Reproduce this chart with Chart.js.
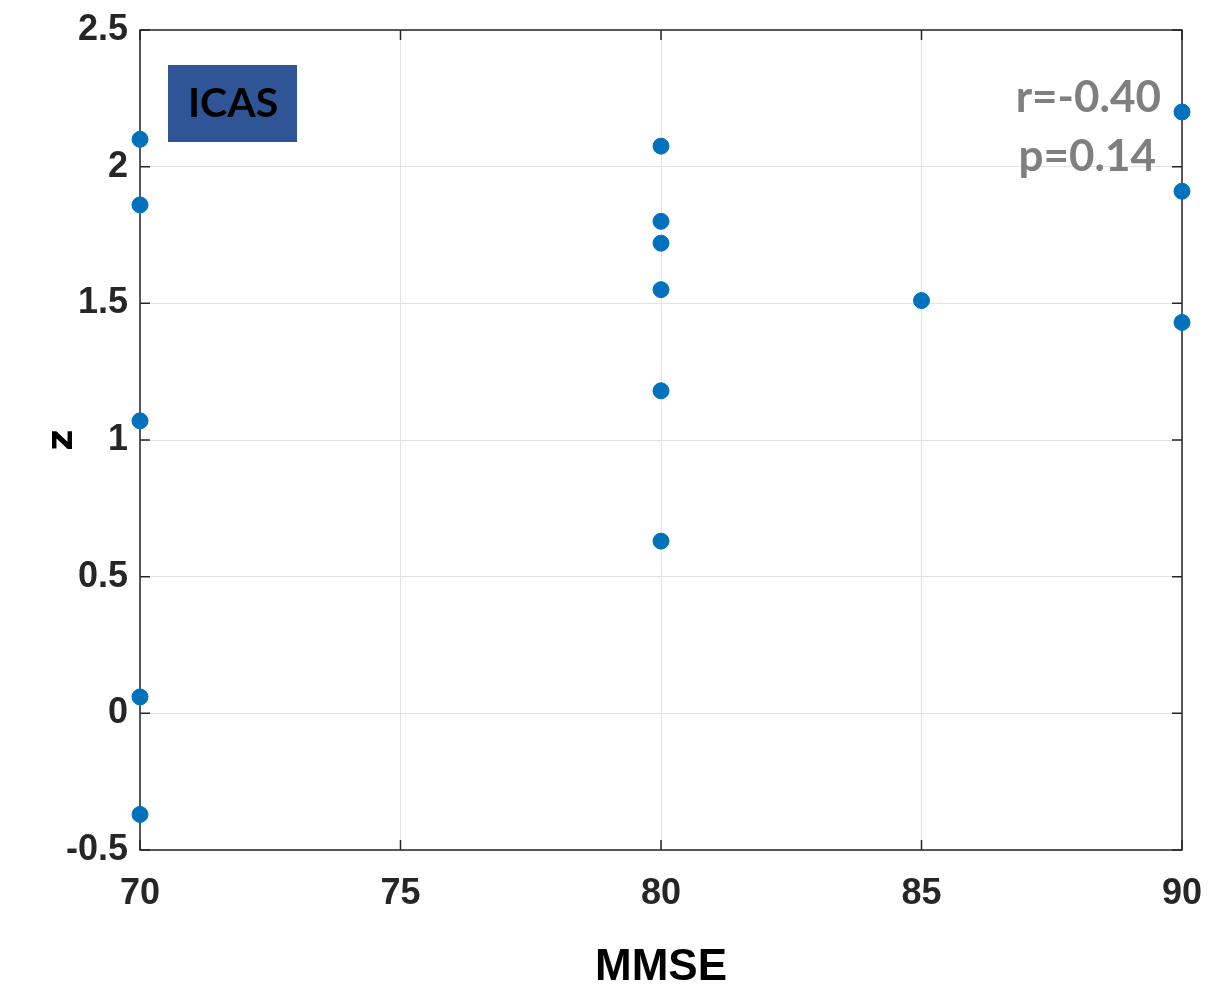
<!DOCTYPE html>
<html>
<head>
<meta charset="utf-8">
<script src="https://cdn.jsdelivr.net/npm/chart.js@4"></script>
<style>
  html, body { margin: 0; padding: 0; background: #fff; }
  #wrap { width: 1231px; height: 990px; position: relative; }
</style>
</head>
<body>
<div id="wrap"><canvas id="scatterChart"></canvas></div>
<script>
// Data
const mmse = [70, 70, 70, 70, 70, 80, 80, 80, 80, 80, 80, 85, 90, 90, 90];
const zValues = [2.10, 1.86, 1.07, 0.06, -0.37, 2.075, 1.80, 1.72, 1.55, 1.18, 0.63, 1.51, 2.20, 1.91, 1.43];
const xTicks = [70, 75, 80, 85, 90];
const yTicks = [-0.5, 0, 0.5, 1, 1.5, 2, 2.5];
const groupLabel = "ICAS";
const statLines = ["r=-0.40", "p=0.14"];

const tickFont = '"Liberation Sans Narrow", "Liberation Sans", sans-serif';

// box, inner tick marks and the text annotations
const boxPlugin = {
  id: "boxPlugin",
  beforeDatasetsDraw(chart) {
    const { ctx, chartArea: a, scales } = chart;
    ctx.save();
    ctx.strokeStyle = "#262626";
    ctx.lineWidth = 1.5;
    ctx.strokeRect(a.left, a.top, a.right - a.left, a.bottom - a.top);

    // ticks pointing inwards (matlab style)
    ctx.beginPath();
    xTicks.forEach((v) => {
      const px = scales.x.getPixelForValue(v);
      ctx.moveTo(px, a.bottom); ctx.lineTo(px, a.bottom - 10);
      ctx.moveTo(px, a.top); ctx.lineTo(px, a.top + 10);
    });
    yTicks.forEach((v) => {
      const py = scales.y.getPixelForValue(v);
      ctx.moveTo(a.left, py); ctx.lineTo(a.left + 10, py);
      ctx.moveTo(a.right, py); ctx.lineTo(a.right - 10, py);
    });
    ctx.stroke();

    // group label box
    ctx.fillStyle = "#2F5597";
    ctx.fillRect(168, 65, 129, 77);
    ctx.fillStyle = "#000";
    ctx.font = 'bold 41px Lato, "Open Sans", sans-serif';
    ctx.textAlign = "center";
    ctx.textBaseline = "middle";
    ctx.fillText(groupLabel, 233, 104);

    // correlation text
    ctx.fillStyle = "#7f7f7f";
    ctx.font = 'bold 44px Lato, "Open Sans", sans-serif';
    ctx.textAlign = "right";
    ctx.fillText(statLines[0], 1161, 98);
    ctx.fillText(statLines[1], 1156, 157);
    ctx.restore();
  },
};

const ctx = document.getElementById("scatterChart").getContext("2d");
new Chart(ctx, {
  type: "scatter",
  data: {
    datasets: [
      {
        label: "z",
        data: mmse.map((x, i) => ({ x: x, y: zValues[i] })),
        backgroundColor: "#0072BD",
        borderColor: "#0072BD",
        pointRadius: 8,
        pointHoverRadius: 8,
        clip: false,
      },
    ],
  },
  options: {
    responsive: true,
    maintainAspectRatio: false,
    animation: false,
    layout: { padding: { top: 30, right: 49, left: 0, bottom: 0 } },
    plugins: {
      legend: { display: false },
      tooltip: { enabled: false },
    },
    scales: {
      x: {
        type: "linear",
        min: 70,
        max: 90,
        afterBuildTicks: (scale) => {
          scale.ticks = xTicks.map((v) => ({ value: v }));
        },
        afterFit: (scale) => {
          scale.height = 140;
          scale.paddingLeft = 0;
          scale.paddingRight = 0;
        },
        grid: { color: "#e3e3e3", drawTicks: false },
        border: { display: false },
        ticks: {
          color: "#262626",
          padding: 22,
          callback: (v) => String(v),
          font: { family: tickFont, size: 36, weight: "bold" },
        },
        title: {
          display: true,
          text: "MMSE",
          color: "#000",
          padding: { top: 30, bottom: 0 },
          font: { family: tickFont, size: 44, weight: "bold", lineHeight: 1 },
        },
      },
      y: {
        type: "linear",
        min: -0.5,
        max: 2.5,
        afterBuildTicks: (scale) => {
          scale.ticks = yTicks.map((v) => ({ value: v }));
        },
        afterFit: (scale) => {
          scale.width = 140;
          scale.paddingTop = 0;
          scale.paddingBottom = 0;
        },
        grid: { color: "#e3e3e3", drawTicks: false },
        border: { display: false },
        ticks: {
          color: "#262626",
          padding: 12,
          callback: (v) => String(v),
          font: { family: tickFont, size: 36, weight: "bold" },
        },
        title: {
          display: true,
          text: "z",
          color: "#000",
          padding: { top: 41, bottom: 0 },
          font: { family: '"DejaVu Sans", sans-serif', size: 36, weight: "bold" },
        },
      },
    },
  },
  plugins: [boxPlugin],
});
</script>
</body>
</html>
